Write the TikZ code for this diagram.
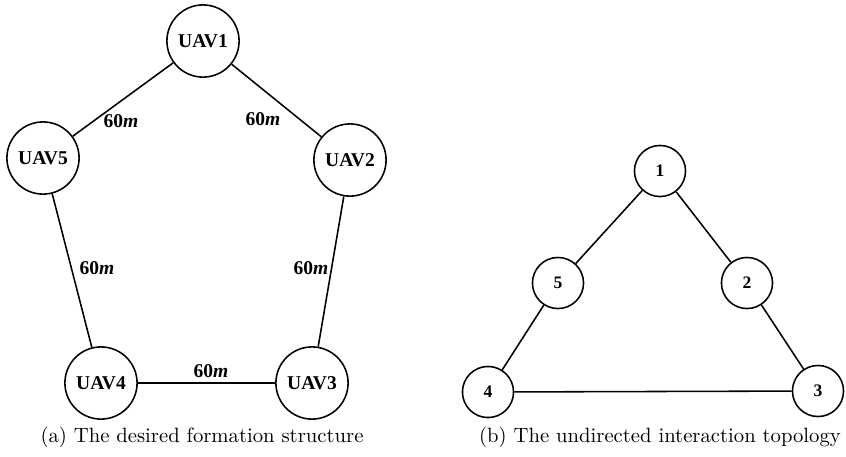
\documentclass[tikz,border=0pt]{standalone}
\usepackage{fontspec}
\newfontfamily\tnr{Liberation Serif}
\begin{document}
\begin{tikzpicture}[x=0.018cm,y=-0.018cm,
    uav/.style={draw,circle,line width=0.8pt,minimum size=1.3cm,inner sep=0pt,font=\tnr\bfseries},
    agent/.style={draw,circle,line width=0.8pt,minimum size=0.92cm,inner sep=0pt,font=\tnr\bfseries\small},
    link/.style={line width=0.8pt},
    dist/.style={font=\tnr\bfseries},
    caption/.style={font=\fontsize{10.6}{12}\selectfont}]
  \useasboundingbox (0,0) rectangle (846,456);

  % Desired formation
  \node[uav] (u1) at (203,41) {UAV1};
  \node[uav] (u2) at (350,160) {UAV2};
  \node[uav] (u3) at (312,383) {UAV3};
  \node[uav] (u4) at (101,383) {UAV4};
  \node[uav] (u5) at (43,158) {UAV5};
  \draw[link] (u1) -- (u2) -- (u3) -- (u4) -- (u5) -- (u1);

  % Distances
  \node[dist] (d15) at (121,121) {60\textit{m}};
  \node[dist] (d12) at (263,119) {60\textit{m}};
  \node[dist] (d54) at (97,268) {60\textit{m}};
  \node[dist] (d23) at (311,268) {60\textit{m}};
  \node[dist] (d43) at (211,371) {60\textit{m}};

  % Interaction topology
  \node[agent] (a1) at (660,171) {1};
  \node[agent] (a2) at (747,283) {2};
  \node[agent] (a3) at (818,391) {3};
  \node[agent] (a4) at (488,392) {4};
  \node[agent] (a5) at (558,283) {5};
  \draw[link] (a1) -- (a2) -- (a3) -- (a4) -- (a5) -- (a1);

  % Captions
  \node[caption] (capa) at (202,437) {(a) The desired formation structure};
  \node[caption] (capb) at (660,437) {(b) The undirected interaction topology};
\end{tikzpicture}
\end{document}
